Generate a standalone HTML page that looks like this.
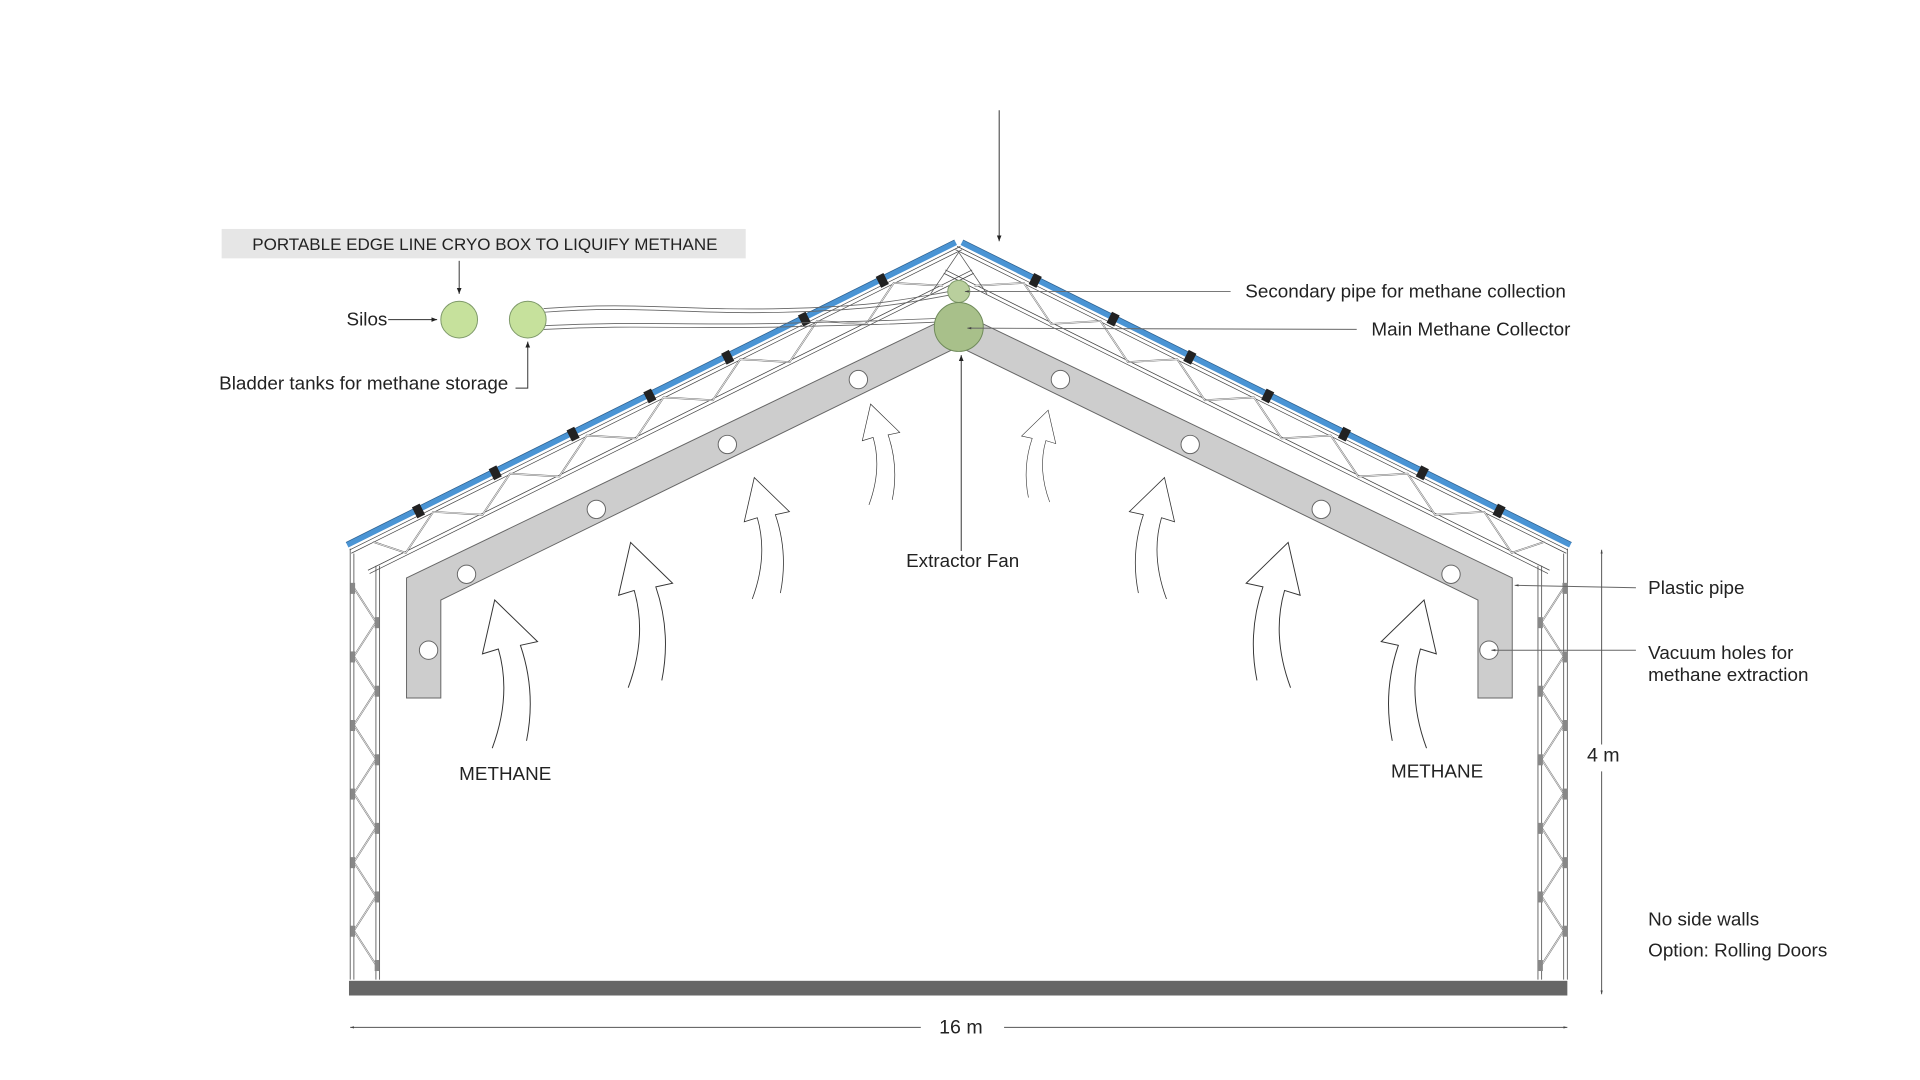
<!DOCTYPE html>
<html><head><meta charset="utf-8"><style>
html,body{margin:0;padding:0;background:#fff;}
svg{display:block;}
text{font-family:"Liberation Sans",sans-serif;fill:#222;}
</style></head><body>
<svg width="1920" height="1080" viewBox="0 0 1568 882" preserveAspectRatio="none" xmlns="http://www.w3.org/2000/svg">
<defs>
<marker id="ah" viewBox="0 0 10 10" refX="10" refY="5" markerWidth="6" markerHeight="6" orient="auto-start-reverse"><path d="M0,1 L10,5 L0,9 z" fill="#222"/></marker>
<marker id="sah" viewBox="0 0 10 10" refX="10" refY="5" markerWidth="4" markerHeight="4" orient="auto-start-reverse"><path d="M0,2 L10,5 L0,8 z" fill="#444"/></marker>
<g id="truss">
  <line x1="0" y1="3.5" x2="557" y2="3.5" stroke="#444" stroke-width="0.6"/>
  <line x1="0" y1="6.5" x2="557" y2="6.5" stroke="#444" stroke-width="0.6"/>
  <line x1="6" y1="25" x2="557" y2="25" stroke="#444" stroke-width="0.6"/>
  <line x1="6" y1="28" x2="557" y2="28" stroke="#444" stroke-width="0.6"/>
  <polyline fill="none" stroke="#666" stroke-width="1.4" points="20,6 40,26 75,6 110,26 145,6 180,26 215,6 250,26 285,6 320,26 355,6 390,26 425,6 460,26 495,6 530,26"/>
  <polyline fill="none" stroke="#fff" stroke-width="0.6" points="20,6 40,26 75,6 110,26 145,6 180,26 215,6 250,26 285,6 320,26 355,6 390,26 425,6 460,26 495,6 530,26"/>
  <line x1="0" y1="-1" x2="555" y2="-1" stroke="#4a94d4" stroke-width="4.5"/>
  <line x1="0" y1="-3.4" x2="555" y2="-3.4" stroke="#2a5f8f" stroke-width="0.6"/>
  <g fill="#222">
    <rect x="61" y="-5" width="7" height="10"/><rect x="131" y="-5" width="7" height="10"/>
    <rect x="202" y="-5" width="7" height="10"/><rect x="272" y="-5" width="7" height="10"/>
    <rect x="343" y="-5" width="7" height="10"/><rect x="413" y="-5" width="7" height="10"/>
    <rect x="484" y="-5" width="7" height="10"/>
  </g>
</g>
<g id="wall">
  <line x1="286" y1="448" x2="286" y2="800" stroke="#555" stroke-width="0.7"/>
  <line x1="289" y1="452" x2="289" y2="800" stroke="#555" stroke-width="0.7"/>
  <line x1="307" y1="462" x2="307" y2="800" stroke="#555" stroke-width="0.7"/>
  <line x1="310" y1="462" x2="310" y2="800" stroke="#555" stroke-width="0.7"/>
  <polyline fill="none" stroke="#777" stroke-width="1.4" points="289,480 307,508 289,536 307,564 289,592 307,620 289,648 307,676 289,704 307,732 289,760 307,788"/>
  <polyline fill="none" stroke="#fff" stroke-width="0.5" points="289,480 307,508 289,536 307,564 289,592 307,620 289,648 307,676 289,704 307,732 289,760 307,788"/>
  <g fill="#888"><rect x="286" y="476" width="4" height="9"/><rect x="306" y="504" width="4" height="9"/><rect x="286" y="532" width="4" height="9"/><rect x="306" y="560" width="4" height="9"/><rect x="286" y="588" width="4" height="9"/><rect x="306" y="616" width="4" height="9"/><rect x="286" y="644" width="4" height="9"/><rect x="306" y="672" width="4" height="9"/><rect x="286" y="700" width="4" height="9"/><rect x="306" y="728" width="4" height="9"/><rect x="286" y="756" width="4" height="9"/><rect x="306" y="784" width="4" height="9"/></g>
</g>
<path id="arr" d="M -2,121 Q 14,78 3,40 L -10,44 L 0,0 L 35,34 L 21,37 Q 34,75 26,115" fill="none" stroke="#333" stroke-width="0.8"/>
</defs>

<use href="#wall"/>
<use href="#wall" transform="translate(1566,0) scale(-1,1)"/>

<use href="#truss" transform="translate(284,446) rotate(-26.43)"/>
<use href="#truss" transform="translate(1282,446) scale(-1,1) rotate(-26.43)"/>
<path d="M783,206 L760,240 M783,206 L806,240" stroke="#555" stroke-width="0.6" fill="none"/>

<path d="M332,472 L783,255 L1235,472 L1235,570 L1207,570 L1207,490 L783,283 L360,490 L360,570 L332,570 Z" fill="#cdcdcd" stroke="#666" stroke-width="0.8"/>
<g fill="#fff" stroke="#666" stroke-width="0.8">
<circle cx="350" cy="531" r="7.5"/><circle cx="381" cy="469" r="7.5"/><circle cx="487" cy="416" r="7.5"/><circle cx="594" cy="363" r="7.5"/><circle cx="701" cy="310" r="7.5"/>
<circle cx="866" cy="310" r="7.5"/><circle cx="972" cy="363" r="7.5"/><circle cx="1079" cy="416" r="7.5"/><circle cx="1185" cy="469" r="7.5"/><circle cx="1216" cy="531" r="7.5"/>
</g>

<rect x="285" y="801" width="995" height="12" fill="#666"/>

<g fill="none" stroke="#666" stroke-width="0.7">
<path d="M444,252 C520,246 560,254 640,252 S740,244 776,238"/>
<path d="M444,255 C520,249 560,257 640,255 S740,247 776,241"/>
<path d="M444,266 C520,262 560,266 640,264 S720,262 765,260"/>
<path d="M444,269 C520,265 560,269 640,267 S720,265 765,263"/>
</g>

<circle cx="375" cy="261" r="15" fill="#c6e19c" stroke="#7f9a6a" stroke-width="0.8"/>
<circle cx="431" cy="261" r="15" fill="#c6e19c" stroke="#7f9a6a" stroke-width="0.8"/>
<circle cx="783" cy="238" r="9" fill="#b9cf9d" stroke="#7f9a6a" stroke-width="0.8"/>
<circle cx="783" cy="267" r="20" fill="#a8c08a" stroke="#6f8a5a" stroke-width="0.8"/>

<use href="#arr" transform="translate(404,490) scale(1)"/>
<use href="#arr" transform="translate(515,443) scale(0.98)"/>
<use href="#arr" transform="translate(616,390) scale(0.82)"/>
<use href="#arr" transform="translate(711,330) scale(0.68)"/>
<use href="#arr" transform="translate(1163,490) scale(-1,1)"/>
<use href="#arr" transform="translate(1052,443) scale(-0.98,0.98)"/>
<use href="#arr" transform="translate(951,390) scale(-0.82,0.82)"/>
<use href="#arr" transform="translate(856,335) scale(-0.62,0.62)"/>

<rect x="181" y="187" width="428" height="24" fill="#e6e6e6"/>
<text x="206" y="204" font-size="13.9">PORTABLE EDGE LINE CRYO BOX TO LIQUIFY METHANE</text>

<g stroke="#333" stroke-width="0.8" fill="none">
<line x1="375" y1="213" x2="375" y2="240" marker-end="url(#ah)"/>
<line x1="317" y1="261" x2="357" y2="261" marker-end="url(#ah)"/>
<polyline points="421,317 431,317 431,279" marker-end="url(#ah)"/>
<line x1="816" y1="90" x2="816" y2="197" marker-end="url(#ah)"/>
<line x1="785" y1="450" x2="785" y2="290" marker-end="url(#ah)"/>
<line x1="1005" y1="238" x2="788" y2="238" stroke="#666" marker-end="url(#sah)"/>
<line x1="1108" y1="269" x2="790" y2="268" stroke="#666" marker-end="url(#sah)"/>
<line x1="1336" y1="480" x2="1237" y2="478" stroke="#666" marker-end="url(#sah)"/>
<line x1="1336" y1="531" x2="1218" y2="531" stroke="#666" marker-end="url(#sah)"/>
<line x1="1308" y1="608" x2="1308" y2="449" stroke="#555" marker-end="url(#sah)"/>
<line x1="1308" y1="630" x2="1308" y2="812" stroke="#555" marker-end="url(#sah)"/>
<line x1="752" y1="839" x2="286" y2="839" stroke="#555" marker-end="url(#sah)"/>
<line x1="820" y1="839" x2="1280" y2="839" stroke="#555" marker-end="url(#sah)"/>
</g>

<g font-size="15.4">
<text x="283" y="266">Silos</text>
<text x="179" y="318">Bladder tanks for methane storage</text>
<text x="1017" y="243">Secondary pipe for methane collection</text>
<text x="1120" y="274">Main Methane Collector</text>
<text x="740" y="463">Extractor Fan</text>
<text x="1346" y="485">Plastic pipe</text>
<text x="1346" y="538">Vacuum holes for</text>
<text x="1346" y="556">methane extraction</text>
<text x="375" y="637">METHANE</text>
<text x="1136" y="635">METHANE</text>
<text x="1346" y="756">No side walls</text>
<text x="1346" y="781">Option: Rolling Doors</text>
<text x="1296" y="622" font-size="16">4 m</text>
<text x="767" y="844" font-size="16">16 m</text>
</g>
</svg>
</body></html>
